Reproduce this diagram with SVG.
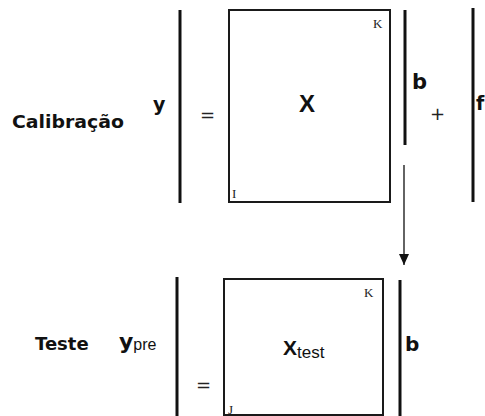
<svg xmlns="http://www.w3.org/2000/svg" width="485" height="416" viewBox="0 0 485 416">
<defs>
<style>
.lbl{font-family:"DejaVu Sans",sans-serif;font-weight:bold;font-size:18px;fill:#111}
.var{font-family:"Liberation Sans",Arial,sans-serif;font-weight:bold;fill:#111}
.dv{font-family:"DejaVu Sans",sans-serif;font-weight:bold;fill:#111}
.sub{font-family:"Liberation Sans",Arial,sans-serif;fill:#111}
.idx{font-family:"Liberation Serif","Times New Roman",serif;font-size:13px;fill:#222}
.vec{stroke:#111;stroke-width:3;fill:none}
.mat{stroke:#1a1a1a;stroke-width:2;fill:#fff}
.op{font-family:"DejaVu Sans",sans-serif;font-size:18px;fill:#222}
</style>
<marker id="ah" markerWidth="11" markerHeight="10" refX="11" refY="5" orient="auto" markerUnits="userSpaceOnUse">
<path d="M0,0 L11,5 L0,10 Z" fill="#111"/>
</marker>
</defs>
<rect width="485" height="416" fill="#fff"/>

<g id="row-calibracao">
<text class="lbl" x="12" y="128" textLength="112" lengthAdjust="spacingAndGlyphs">Calibração</text>
</g>
<g id="vec-y">
<line class="vec" x1="180" y1="10" x2="180" y2="203"/>
<text class="dv" x="153" y="111" font-size="19">y</text>
</g>
<g id="eq1">
<text class="op" x="200" y="121">=</text>
</g>
<g id="mat-X">
<rect class="mat" x="229" y="10" width="161" height="192"/>
<text class="var" x="307" y="112" font-size="24" text-anchor="middle">X</text>
<text class="idx" x="373" y="28">K</text>
<text class="idx" x="232" y="198" font-size="14">I</text>
</g>
<g id="vec-b">
<line class="vec" x1="405" y1="10" x2="405" y2="145"/>
<text class="dv" x="412" y="89" font-size="21">b</text>
</g>
<g id="plus">
<text class="op" x="430" y="120" font-size="17">+</text>
</g>
<g id="vec-f">
<line class="vec" x1="473" y1="8" x2="473" y2="202"/>
<text class="dv" x="476" y="110" font-size="19">f</text>
</g>

<g id="connectors">
<line x1="404" y1="165" x2="404" y2="265" stroke="#222" stroke-width="1.4" marker-end="url(#ah)"/>
</g>

<g id="row-teste">
<text class="lbl" x="35" y="350">Teste</text>
</g>
<g id="vec-ypre">
<line class="vec" x1="177" y1="277" x2="177" y2="416"/>
<text x="119" y="349"><tspan class="dv" font-size="22">y</tspan><tspan class="sub" font-size="16" dy="1">pre</tspan></text>
</g>
<g id="eq2">
<text class="op" x="196" y="391">=</text>
</g>
<g id="mat-Xtest">
<rect class="mat" x="224" y="279" width="159" height="136"/>
<text x="283" y="355"><tspan class="var" font-size="21">X</tspan><tspan class="sub" font-size="17" dy="3">test</tspan></text>
<text class="idx" x="364" y="297">K</text>
<text class="idx" x="228" y="414" font-size="12">J</text>
</g>
<g id="vec-b-test">
<line class="vec" x1="400" y1="280" x2="400" y2="416"/>
<text class="dv" x="405" y="351" font-size="20">b</text>
</g>
</svg>
